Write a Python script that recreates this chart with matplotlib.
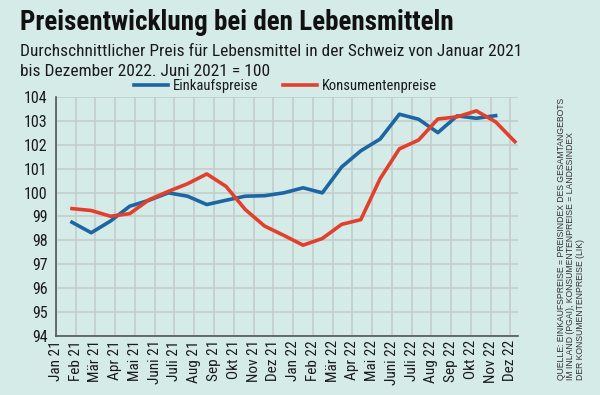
import numpy as np
import matplotlib
matplotlib.use('Agg')
import matplotlib.pyplot as plt

plt.rcParams['font.family'] = ['Roboto Condensed', 'DejaVu Sans']

# daten
monate = ['Jan 21', 'Feb 21', 'Mär 21', 'Apr 21', 'Mai 21', 'Juni 21', 'Juli 21', 'Aug 21',
          'Sep 21', 'Okt 21', 'Nov 21', 'Dez 21', 'Jan 22', 'Feb 22', 'Mär 22', 'Apr 22',
          'Mai 22', 'Juni 22', 'Juli 22', 'Aug 22', 'Sep 22', 'Okt 22', 'Nov 22', 'Dez 22']
einkaufspreise = [98.76, 98.32, 98.81, 99.43, 99.68, 99.99, 99.85, 99.50, 99.68, 99.85, 99.87,
                  99.99, 100.20, 99.99, 101.07, 101.75, 102.24, 103.28, 103.07, 102.51, 103.21,
                  103.11, 103.22]
konsumentenpreise = [99.33, 99.25, 99.01, 99.12, 99.70, 100.05, 100.37, 100.78, 100.26, 99.29,
                     98.60, 98.21, 97.80, 98.08, 98.67, 98.87, 100.58, 101.83, 102.20, 103.08,
                     103.17, 103.42, 102.96, 102.13]
y_ticks = [94, 95, 96, 97, 98, 99, 100, 101, 102, 103, 104]

bg = '#d5ebe8'
blau = '#1d65a3'
rot = '#e2402c'

fig = plt.figure(figsize=(6, 3.95), dpi=100, facecolor=bg)
ax = fig.add_axes([0.0933, 0.1494, 0.77, 0.605], facecolor=bg)

# raster und achsen
ax.set_xlim(0, 23.39)
ax.set_ylim(94, 104)
ax.set_xticks(range(len(monate)))
ax.set_xticklabels(monate, rotation=90, fontsize=11, color='#1a1a1a')
ax.set_yticks(y_ticks)
ax.set_yticklabels([str(t) for t in y_ticks], fontsize=11.5, color='#1a1a1a')
ax.tick_params(length=0, pad=3)
ax.tick_params(axis='y', pad=6)
ax.grid(True, color='#c3cdcb', linewidth=1.2)
ax.set_axisbelow(True)
for s in ['top', 'right']:
    ax.spines[s].set_visible(False)
for s in ['left', 'bottom']:
    ax.spines[s].set_color('#555555')
    ax.spines[s].set_linewidth(1.2)

# linien (eigene x-skala wie im original leicht versetzt)
ax2 = ax.twiny()
ax2.set_xlim(-0.831, 23.16)
ax2.axis('off')
x = np.arange(len(monate))
ax2.plot(x[:len(einkaufspreise)], einkaufspreise, color=blau, linewidth=2.6,
         solid_joinstyle='round', label='Einkaufspreise')
ax2.plot(x, konsumentenpreise, color=rot, linewidth=2.6,
         solid_joinstyle='round', label='Konsumentenpreise')

leg = fig.legend(loc='center', bbox_to_anchor=(0.476, 0.782), ncol=2, frameon=False,
                 fontsize=10.5, handlelength=2.35, handletextpad=0.35, columnspacing=1.65)
for t in leg.get_texts():
    t.set_color('#1a1a1a')

# titel
fig.text(0.034, 0.924, 'Preisentwicklung bei den Lebensmitteln', fontsize=19.5,
         fontweight='bold', color='#111111', va='baseline')
fig.text(0.034, 0.859, 'Durchschnittlicher Preis für Lebensmittel in der Schweiz von Januar 2021',
         fontsize=12.5, color='#1a1a1a', va='baseline')
fig.text(0.034, 0.808, 'bis Dezember 2022. Juni 2021 = 100',
         fontsize=12.5, color='#1a1a1a', va='baseline')

# quelle
quelle = ('QUELLE: EINKAUFSPREISE = PREISINDEX DES GESAMTANGEBOTS\n'
          'IM INLAND (PGAI), KONSUMENTENPREISE = LANDESINDEX\n'
          'DER KONSUMENTENPREISE (LIK)')
fig.text(0.928, 0.038, quelle, rotation=90, fontsize=6.2, color='#333333',
         ha='left', va='bottom', linespacing=1.05, family=['Liberation Sans', 'DejaVu Sans'])

fig.savefig('out.png', dpi=100, facecolor=bg)
